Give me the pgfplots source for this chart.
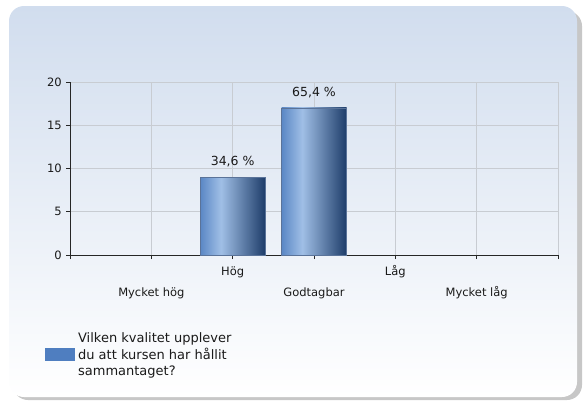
\documentclass[border=0pt]{standalone}
\usepackage{pgfplots}
\pgfplotsset{compat=1.18}
\usepackage{pgfplotstable}
\usepackage{fontspec}
\setmainfont{DejaVu Sans}
\definecolor{panelTop}{HTML}{D1DDEE}
\definecolor{gridc}{HTML}{C8CCD2}
\definecolor{b1}{HTML}{5A87C5}
\definecolor{b2}{HTML}{A0BFE6}
\definecolor{b3}{HTML}{1E3D6A}
\definecolor{barborder}{HTML}{5A7399}
\definecolor{legblue}{HTML}{4F7EC0}
\definecolor{txt}{HTML}{1A1A1A}
\pgfdeclarehorizontalshading{barshade}{100bp}{color(0bp)=(b1); color(25bp)=(b1); color(41bp)=(b2); color(75bp)=(b3); color(100bp)=(b3)}

% Hög
\pgfplotstableread{
x y lab
2 9 {34,6 \%}
}\barHog
% Godtagbar
\pgfplotstableread{
x y lab
3 17 {65,4 \%}
}\barGod

\pgfplotsset{mybar/.style={ybar, bar width=65bp, shading=barshade, draw=barborder, line width=0.6bp,
  point meta=explicit symbolic, nodes near coords, forget plot,
  every node near coord/.append style={font=\fontsize{12.5bp}{14bp}\selectfont, text=txt, anchor=base, inner sep=0pt, yshift=11.5bp}}}

\begin{document}
\begin{tikzpicture}
\useasboundingbox (0,0) rectangle (583bp,-401bp);
\fill[black!22, rounded corners=15bp] (13bp,-11bp) rectangle (582bp,-400bp);
\shade[top color=panelTop, bottom color=white, rounded corners=15bp] (9bp,-6bp) rectangle (577bp,-397bp);
\begin{axis}[
  at={(70bp,-255bp)}, anchor=south west,
  scale only axis, width=488bp, height=173bp,
  xmin=0, xmax=6, ymin=0, ymax=20,
  axis x line*=bottom, axis y line*=left,
  axis line style={color=black!85, line width=0.9bp, -},
  xtick={0,...,6},
  xticklabels={,\raisebox{-21bp}{Mycket hög},Hög,\raisebox{-21bp}{Godtagbar},Låg,\raisebox{-21bp}{Mycket låg},},
  ytick={0,5,...,20},
  grid=major, grid style={color=gridc, line width=0.9bp},
  tick align=outside, major tick length=4bp,
  tick style={color=black!85, line width=0.9bp},
  ticklabel style={font=\fontsize{11.5bp}{13bp}\selectfont, text=txt},
  xticklabel style={anchor=north, inner sep=0pt, text height=8.5bp, text depth=2.5bp, yshift=-8bp},
  yticklabel style={anchor=east, inner sep=0pt, xshift=-4bp},
  /pgf/number format/assume math mode=true,
  legend style={at={(axis description cs:-0.0512,-0.578)}, anchor=west, draw=none, fill=none, inner sep=0pt,
    font=\fontsize{13bp}{16.5bp}\selectfont, text=txt, nodes={inner sep=0pt, inner xsep=3.5bp, align=left}},
  legend cell align=left,
]
\addlegendimage{legend image code/.code={\fill[legblue] (0bp,-5bp) rectangle (29bp,7bp);}}
\addlegendentry{Vilken kvalitet upplever\\du att kursen har hållit\\sammantaget?}
\addplot[mybar] table[x=x, y=y, meta=lab] {\barHog};
\addplot[mybar] table[x=x, y=y, meta=lab] {\barGod};
\end{axis}
\end{tikzpicture}
\end{document}
